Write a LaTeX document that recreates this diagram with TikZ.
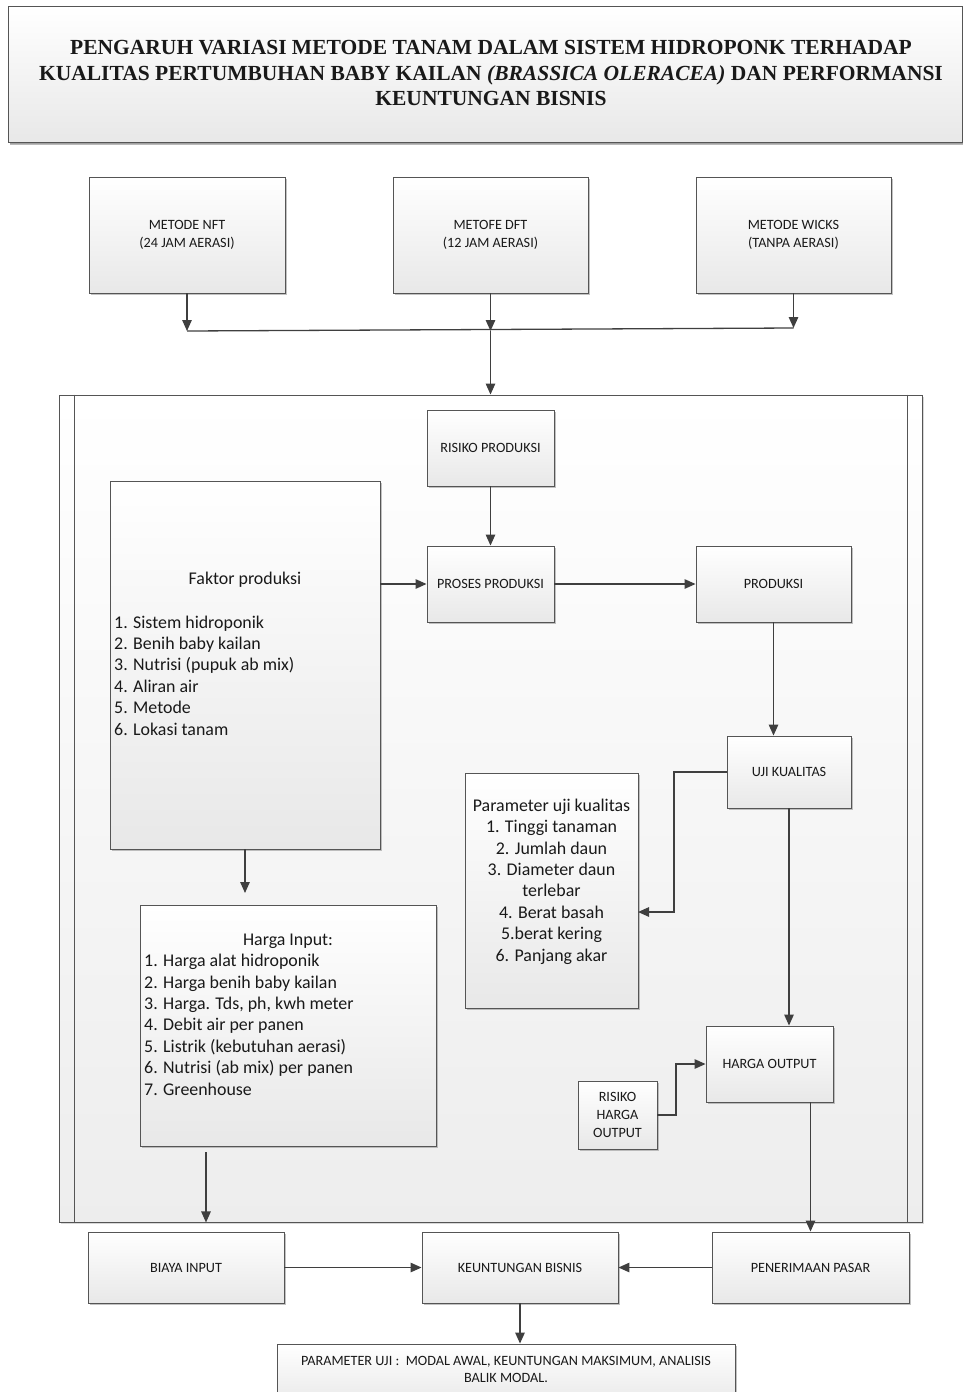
\documentclass[tikz,border=0pt]{standalone}
\usepackage{fontspec}
\setmainfont{Carlito}
\newfontfamily\titlefont{Liberation Serif}
\usetikzlibrary{arrows.meta,shadows}
\definecolor{edge}{HTML}{555555}
\definecolor{lnk}{HTML}{3F3F3F}
\newcommand{\smallf}{\fontsize{14.2}{17.6}\selectfont}
\newcommand{\bigf}{\fontsize{17.9}{21.4}\selectfont}
\begin{document}
\begin{tikzpicture}[x=1pt,y=-1pt,
  box/.style={draw=edge, line width=0.9pt, top color=white, bottom color=black!9,
    inner sep=2pt, align=center, font=\smallf, text=black!90,
    drop shadow={shadow xshift=2pt, shadow yshift=-2pt, fill=black!40, opacity=0.6}},
  arr/.style={draw=lnk, line width=1.3pt, -{Triangle[length=11pt,width=9.5pt]}},
  ln/.style={draw=lnk, line width=1.3pt},
  txt/.style={inner sep=0pt, text=black!90, font=\bigf}]
\useasboundingbox (0,0) rectangle (963,1392);
\clip (0,0) rectangle (963,1392);

% title
\node[box, minimum width=954pt, minimum height=136pt,
  drop shadow={shadow xshift=2pt, shadow yshift=-3pt, fill=black!45, opacity=0.6}] (title) at (485,74) {};
\node[txt, align=center, font=\titlefont\bfseries\fontsize{21.5}{25.5}\selectfont] (titletxt) at (491,73)
  {PENGARUH VARIASI METODE TANAM DALAM SISTEM HIDROPONK TERHADAP\\
   KUALITAS PERTUMBUHAN BABY KAILAN \textit{(BRASSICA OLERACEA)} DAN PERFORMANSI\\
   KEUNTUNGAN BISNIS};

% methods
\node[box, minimum width=196pt, minimum height=116pt] (nft) at (187,235) {METODE NFT\\(24 JAM AERASI)};
\node[box, minimum width=195pt, minimum height=116pt] (dft) at (490.5,235) {METOFE DFT\\(12 JAM AERASI)};
\node[box, minimum width=195pt, minimum height=116pt] (wicks) at (793.5,235) {METODE WICKS\\(TANPA AERASI)};

% container
\node[draw=edge, line width=0.9pt, top color=white, bottom color=black!7, inner sep=0pt,
  minimum width=863pt, minimum height=827pt,
  drop shadow={shadow xshift=1.5pt, shadow yshift=-1.5pt, fill=black!30, opacity=0.5}] (pool) at (490.5,808.5) {};
\draw[draw=edge, line width=0.9pt] ([xshift=16pt]pool.north west) -- ([xshift=16pt]pool.south west);
\draw[draw=edge, line width=0.9pt] ([xshift=-15pt]pool.north east) -- ([xshift=-15pt]pool.south east);

% junction
\coordinate (j1) at (187,331);
\coordinate (j2) at (490.5,331);
\coordinate (j3) at (793.5,328);
\draw[arr] (nft.south) -- (j1);
\draw[arr] (dft.south) -- (j2);
\draw[arr] (wicks.south) -- (j3);
\draw[ln] (j1) -- (j3);
\draw[arr] (j2) -- (pool.north);

% inner boxes
\node[box, minimum width=127pt, minimum height=76pt] (risiko) at (490.5,448) {RISIKO PRODUKSI};
\node[box, minimum width=127pt, minimum height=76pt] (proses) at (490.5,584) {PROSES PRODUKSI};
\node[box, minimum width=155pt, minimum height=76pt] (produksi) at (773.5,584) {PRODUKSI};

\node[box, minimum width=270pt, minimum height=368pt] (faktor) at (245,665) {};
\node[txt] (faktorhead) at (245,580) {Faktor produksi};
\node[txt, align=left, anchor=base west] (faktorlist) at (114,735)
  {1. Sistem hidroponik\\2. Benih baby kailan\\3. Nutrisi (pupuk ab mix)\\4. Aliran air\\5. Metode\\6. Lokasi tanam};

\node[box, minimum width=124pt, minimum height=72pt] (uji) at (789,772) {UJI KUALITAS};
\node[box, minimum width=173pt, minimum height=235pt] (param) at (551.5,890.5) {};
\node[txt, align=center, anchor=base] (paramtxt) at (551.5,961)
  {Parameter uji kualitas\\1. Tinggi tanaman\\2. Jumlah daun\\3. Diameter daun\\terlebar\\4. Berat basah\\5.berat kering\\6. Panjang akar};

\node[box, minimum width=127pt, minimum height=76pt] (hargaout) at (769.5,1064) {HARGA OUTPUT};
\node[box, minimum width=79pt, minimum height=68pt] (risikoharga) at (617.5,1115) {RISIKO\\HARGA\\OUTPUT};

\node[box, minimum width=296pt, minimum height=241pt] (hargain) at (288,1025.5) {};
\node[txt] (hargainhead) at (288,941) {Harga Input:};
\node[txt, align=left, anchor=base west] (hargainlist) at (144,1095)
  {1. Harga alat hidroponik\\2. Harga benih baby kailan\\3. Harga. Tds, ph, kwh meter\\4. Debit air per panen\\5. Listrik (kebutuhan aerasi)\\6. Nutrisi (ab mix) per panen\\7. Greenhouse};

% bottom row
\node[box, minimum width=196pt, minimum height=71pt] (biaya) at (186,1267.5) {BIAYA INPUT};
\node[box, minimum width=196pt, minimum height=71pt] (keunt) at (520,1267.5) {KEUNTUNGAN BISNIS};
\node[box, minimum width=197pt, minimum height=71pt] (pener) at (810.5,1267.5) {PENERIMAAN PASAR};
\node[box, minimum width=458pt, minimum height=62pt] (paramuji) at (506,1375) {};
\node[txt, font=\smallf, align=center] (paramujitxt) at (506,1369.5)
  {PARAMETER UJI : \ MODAL AWAL, KEUNTUNGAN MAKSIMUM, ANALISIS\\BALIK MODAL.};

% connectors
\draw[arr] (risiko.south) -- (proses.north);
\draw[arr] (faktor.east |- proses.west) -- (proses.west);
\draw[arr] (proses.east) -- (produksi.west);
\draw[arr] (produksi.south) -- (produksi.south |- uji.north);
\coordinate (pk) at (638,912);
\draw[arr] (uji.west) -- (674,772) |- (pk);
\draw[arr] (uji.south) -- (uji.south |- hargaout.north);
\draw[arr] (risikoharga.east) -- (676,1115) |- (hargaout.west);
\draw[arr] (hargaout.south -| pener.north) -- (pener.north);
\coordinate (f2) at (245,893);
\draw[arr] (faktor.south) -- (f2);
\coordinate (h1) at (206,1152);
\draw[arr] (h1) -- (h1 |- pool.south);
\draw[arr] (biaya.east) -- (keunt.west);
\draw[arr] (pener.west) -- (keunt.east);
\draw[arr] (keunt.south) -- (keunt.south |- paramuji.north);
\end{tikzpicture}
\end{document}
